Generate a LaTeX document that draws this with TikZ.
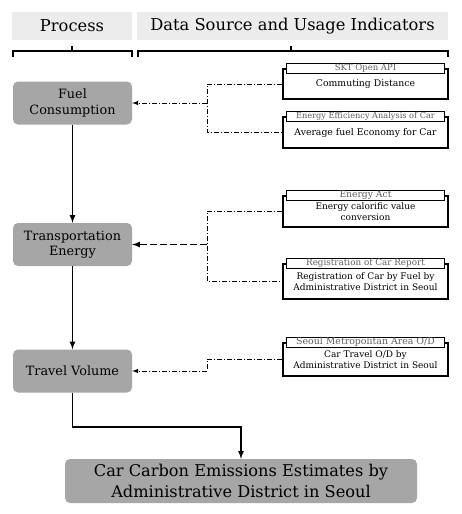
\documentclass[tikz,border=0pt]{standalone}
\usepackage{fontspec}
\setmainfont{DejaVu Serif}
\usepackage{tikz}
\usetikzlibrary{arrows,backgrounds,calc,positioning}
\definecolor{procgray}{RGB}{166,166,166}
\definecolor{headgray}{RGB}{236,236,236}
\definecolor{titlegray}{RGB}{95,95,95}
\tikzset{
process/.style={rectangle,rounded corners=5pt,fill=procgray,minimum width=119pt,minimum height=43pt,align=center,inner sep=0pt,font=\fontsize{12.8}{15.5}\selectfont},
header/.style={rectangle,fill=headgray,minimum height=28pt,inner sep=0pt,font=\fontsize{16.3}{18}\selectfont},
source/.style={rectangle,draw,line width=1.2pt,fill=white,minimum width=165pt,align=center,inner sep=0pt,font=\fontsize{9.3}{11}\selectfont},
srctitle/.style={rectangle,draw,line width=0.7pt,fill=white,minimum width=158pt,minimum height=10.5pt,inner sep=0pt,text=titlegray,font=\fontsize{8.8}{9}\selectfont},
link/.style={line width=1pt,dash pattern=on 5pt off 2pt on 1pt off 2pt},
flow/.style={line width=1.6pt,-latex},
}
\begin{document}
\begin{tikzpicture}[x=1pt,y=-1pt]
\fill[white] (0,0) rectangle (462,514);
\useasboundingbox (0,0) rectangle (462,514);
% headers
\node[header,minimum width=120pt] (hproc) at (72,26) {Process};
\node[header,minimum width=311pt] (hdata) at (292.5,26) {Data Source and Usage Indicators};
\draw[line width=1.4pt] (13,57) -- (13,51) -- (132,51) -- (132,57) (72,51) -- (72,46);
\draw[line width=1.4pt] (138,57) -- (138,51) -- (448,51) -- (448,57) (291,51) -- (291,46);
% process
\node[process] (fuel) at (72.5,103) {Fuel\\Consumption};
\node[process] (energy) at (72.5,244.5) {Transportation\\Energy};
\node[process] (travel) at (72.5,371) {Travel Volume};
\node[process,minimum width=352pt,minimum height=44pt,font=\fontsize{16.2}{21}\selectfont] (carbon) at (241,481) {Car Carbon Emissions Estimates by\\Administrative District in Seoul};
% data sources
\node[source,minimum height=30pt] (skt) at (365.5,84) {Commuting Distance};
\node[srctitle,font=\fontsize{8.5}{9}\selectfont] (skt-t) at (skt.north) {SKT Open API};
\node[source,minimum height=31pt] (eff) at (365.5,132.5) {Average fuel Economy for Car};
\node[srctitle,font=\fontsize{8.2}{9}\selectfont] (eff-t) at (eff.north) {Energy Efficiency Analysis of Car};
\node[source,minimum height=31pt,font=\fontsize{9}{11}\selectfont] (act) at (365.5,211.5) {Energy calorific value\\conversion};
\node[srctitle,font=\fontsize{9.2}{9}\selectfont] (act-t) at (act.north) {Energy Act};
\node[source,minimum height=35pt,font=\fontsize{9}{11}\selectfont] (reg) at (365.5,281.5) {Registration of Car by Fuel by\\Administrative District in Seoul};
\node[srctitle] (reg-t) at (reg.north) {Registration of Car Report};
\node[source,minimum height=33pt,font=\fontsize{9}{11}\selectfont] (seoul) at (365.5,359.5) {Car Travel O/D by\\Administrative District in Seoul};
\node[srctitle,font=\fontsize{9.4}{9}\selectfont] (seoul-t) at (seoul.north) {Seoul Metropolitan Area O/D};
% links
\path (fuel.east) ++(75,0) coordinate (fj);
\path (energy.east) ++(75,0) coordinate (ej);
\path (travel.east) ++(75,0) coordinate (tj);
\draw[link] (skt.west) -| (fj) |- (eff.west);
\draw[link,-latex] (fj) -- (fuel.east);
\draw[link] (act.west) -| (ej) |- (reg.west);
\draw[line width=1.6pt,dash pattern=on 7pt off 3pt,-latex] (ej) -- (energy.east);
\draw[link] (seoul.west) -| (tj);
\draw[link,-latex] (tj) -- (travel.east);
% flow
\draw[flow] (fuel) -- (energy);
\draw[flow] (energy) -- (travel);
\draw[flow] (travel.south) -- ++(0,34) -| (carbon.north);
\end{tikzpicture}
\end{document}
